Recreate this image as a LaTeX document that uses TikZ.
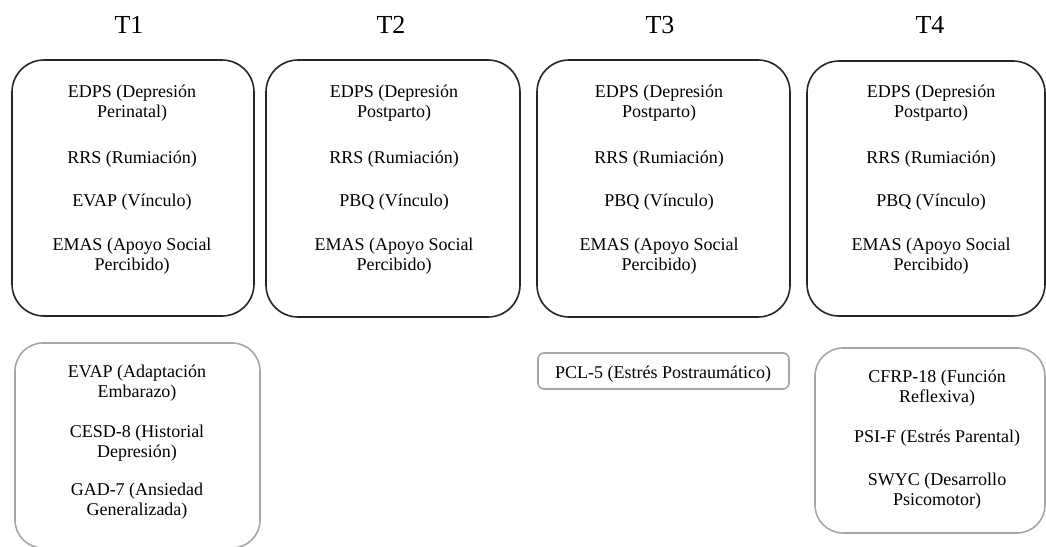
\documentclass[tikz,border=0pt]{standalone}
\usepackage{fontspec}
\setmainfont{Liberation Serif}
\newfontfamily\tnr{Liberation Serif}
\begin{document}
\begin{tikzpicture}[x=1pt,y=-1pt,
  phase/.style={draw=black!85, line width=1.6pt, rounded corners=32pt, inner sep=0pt},
  extra/.style={draw=black!35, line width=1.6pt, rounded corners=28pt, inner sep=0pt},
  lbl/.style={anchor=base, inner sep=0pt, font=\tnr\fontsize{18}{21}\selectfont},
  ttl/.style={anchor=base, inner sep=0pt, font=\tnr\fontsize{26}{30}\selectfont}]
\clip (0,0) rectangle (1046,546);

% time points
\node[ttl] (T1) at (129,33) {T1};
\node[ttl] (T2) at (391,33) {T2};
\node[ttl] (T3) at (660,33) {T3};
\node[ttl] (T4) at (930,33) {T4};

% measures repeated at every time point
\node[phase, minimum width=242pt, minimum height=256pt] (p1) at (133,188) {};
\node[phase, minimum width=254pt, minimum height=257pt] (p2) at (393,188.5) {};
\node[phase, minimum width=253pt, minimum height=257pt] (p3) at (663.5,188.5) {};
\node[phase, minimum width=238pt, minimum height=255pt] (p4) at (926,188.5) {};

% T1
\node[lbl] (p1a) at (132,97)    {EDPS (Depresión};
\node[lbl] (p1b) at (132,117.5) {Perinatal)};
\node[lbl] (p1c) at (132,163)   {RRS (Rumiación)};
\node[lbl] (p1d) at (132,206)   {EVAP (Vínculo)};
\node[lbl] (p1e) at (132,250)   {EMAS (Apoyo Social};
\node[lbl] (p1f) at (132,270.5) {Percibido)};

% T2
\node[lbl] (p2a) at (394,97)    {EDPS (Depresión};
\node[lbl] (p2b) at (394,117.5) {Postparto)};
\node[lbl] (p2c) at (394,163)   {RRS (Rumiación)};
\node[lbl] (p2d) at (394,206)   {PBQ (Vínculo)};
\node[lbl] (p2e) at (394,250)   {EMAS (Apoyo Social};
\node[lbl] (p2f) at (394,270.5) {Percibido)};

% T3
\node[lbl] (p3a) at (659,97)    {EDPS (Depresión};
\node[lbl] (p3b) at (659,117.5) {Postparto)};
\node[lbl] (p3c) at (659,163)   {RRS (Rumiación)};
\node[lbl] (p3d) at (659,206)   {PBQ (Vínculo)};
\node[lbl] (p3e) at (659,250)   {EMAS (Apoyo Social};
\node[lbl] (p3f) at (659,270.5) {Percibido)};

% T4
\node[lbl] (p4a) at (931,97)    {EDPS (Depresión};
\node[lbl] (p4b) at (931,117.5) {Postparto)};
\node[lbl] (p4c) at (931,163)   {RRS (Rumiación)};
\node[lbl] (p4d) at (931,206)   {PBQ (Vínculo)};
\node[lbl] (p4e) at (931,250)   {EMAS (Apoyo Social};
\node[lbl] (p4f) at (931,270.5) {Percibido)};

% additional measures
\node[extra, minimum width=245pt, minimum height=205pt] (e1) at (137.5,445.5) {};
\node[extra, rounded corners=6pt, minimum width=251pt, minimum height=36pt] (e3) at (663.5,371) {};
\node[extra, minimum width=230pt, minimum height=185pt] (e4) at (930,440.5) {};

\node[lbl] (e1a) at (137,377) {EVAP (Adaptación};
\node[lbl] (e1b) at (137,397) {Embarazo)};
\node[lbl] (e1c) at (137,437) {CESD-8 (Historial};
\node[lbl] (e1d) at (137,457) {Depresión)};
\node[lbl] (e1e) at (137,495) {GAD-7 (Ansiedad};
\node[lbl] (e1f) at (137,515) {Generalizada)};

\node[lbl] (e3a) at (663,378) {PCL-5 (Estrés Postraumático)};

\node[lbl] (e4a) at (937,382) {CFRP-18 (Función};
\node[lbl] (e4b) at (937,402) {Reflexiva)};
\node[lbl] (e4c) at (937,442) {PSI-F (Estrés Parental)};
\node[lbl] (e4d) at (937,485) {SWYC (Desarrollo};
\node[lbl] (e4e) at (937,505) {Psicomotor)};
\end{tikzpicture}
\end{document}
